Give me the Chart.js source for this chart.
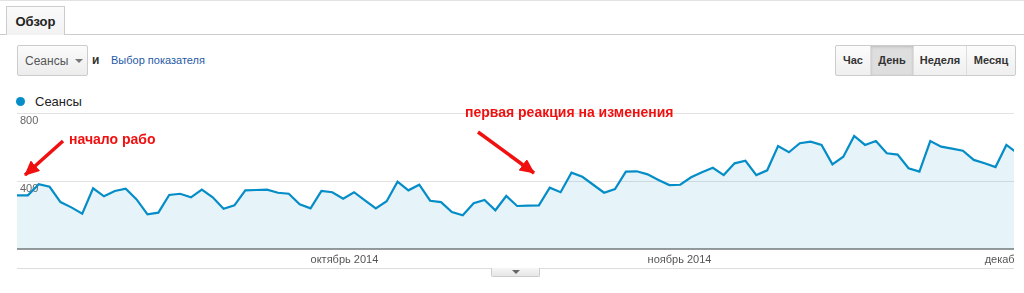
<!DOCTYPE html>
<html>
<head>
<meta charset="utf-8">
<script src="https://cdn.jsdelivr.net/npm/chart.js@4/dist/chart.umd.min.js"></script>
<style>
  body { margin: 0; width: 1024px; height: 293px; background: #fff; position: relative; overflow: hidden;
         font-family: "Liberation Sans", Arial, sans-serif; }
  .abs { position: absolute; }
  #topline { left: 0; top: 0; width: 1024px; height: 1px; background: #e2e2e2; }
  #tabline { left: 0; top: 34px; width: 1024px; height: 1px; background: #ccc; }
  #tab { left: 6px; top: 6px; width: 57px; height: 28px; border: 1px solid #ccc; border-bottom: none;
         background: linear-gradient(#fafafa, #f2f2f2); font-size: 13px; font-weight: bold; color: #222;
         text-align: center; line-height: 30px; }
  #metric { left: 17px; top: 45px; width: 69px; height: 29px; border: 1px solid #ccc; border-radius: 2px;
            background: linear-gradient(#fbfbfb, #ececec); font-size: 12px; color: #555; line-height: 30px; }
  #metric span { position: absolute; left: 7px; }
  #metric i { position: absolute; left: 57px; top: 13px; border-left: 4px solid transparent;
              border-right: 4px solid transparent; border-top: 4px solid #777; }
  #and { left: 92px; top: 53px; font-size: 12px; font-weight: bold; color: #333; }
  #pick { left: 111px; top: 54px; font-size: 11px; color: #1f5aa6; }
  #btns { left: 835px; top: 45px; height: 29px; border: 1px solid #ccc; border-radius: 2px; display: flex;
          background: linear-gradient(#fcfcfc, #efefef); }
  #btns div { font-size: 11px; font-weight: bold; color: #333; text-align: center; line-height: 29px;
              border-left: 1px solid #ddd; }
  #btns div:first-child { border-left: none; }
  #btns .on { background: #dedede; box-shadow: inset 0 1px 3px rgba(0,0,0,0.15); }
  #legdot { left: 16px; top: 97px; width: 9px; height: 9px; border-radius: 50%; background: #058dc7; }
  #legtxt { left: 35px; top: 94px; font-size: 13px; color: #222; }
  #chartbox { left: 17px; top: 113px; width: 997px; height: 156px; }
  #botline { left: 17px; top: 268px; width: 997px; height: 1px; background: #ddd; }
  #pull { left: 491px; top: 268px; width: 47px; height: 8px; border: 1px solid #ccc; border-top: none;
          background: linear-gradient(#f6f6f6, #e6e6e6); border-radius: 0 0 2px 2px; }
  #pull i { position: absolute; left: 20px; top: 2px; border-left: 4px solid transparent;
            border-right: 4px solid transparent; border-top: 4px solid #666; }
  .note { font-size: 14px; font-weight: bold; color: #f01010; z-index: 5; white-space: nowrap; }
  #arrows { left: 0; top: 0; z-index: 5; }
</style>
</head>
<body>
<div class="abs" id="topline"></div>
<div class="abs" id="tabline"></div>
<div class="abs" id="tab">Обзор</div>
<div class="abs" id="metric"><span>Сеансы</span><i></i></div>
<div class="abs" id="and">и</div>
<div class="abs" id="pick">Выбор показателя</div>
<div class="abs" id="btns">
  <div style="width:34px">Час</div>
  <div class="on" style="width:42px">День</div>
  <div style="width:52px">Неделя</div>
  <div style="width:48px">Месяц</div>
</div>
<div class="abs" id="legdot"></div>
<div class="abs" id="legtxt">Сеансы</div>
<div class="abs" id="chartbox"><canvas id="sessions"></canvas></div>
<div class="abs" id="botline"></div>
<div class="abs" id="pull"><i></i></div>

<div class="abs note" style="left:69px; top:131px;">начало рабо</div>
<div class="abs note" style="left:465px; top:104px;">первая реакция на изменения</div>
<svg class="abs" id="arrows" width="1024" height="293">
  <defs>
    <marker id="head" markerUnits="userSpaceOnUse" markerWidth="16" markerHeight="14" refX="14" refY="7" orient="auto">
      <path d="M0,0 L15,7 L0,14 z" fill="#f01010"/>
    </marker>
  </defs>
  <line x1="63" y1="141" x2="25" y2="175" stroke="#f01010" stroke-width="3.5" marker-end="url(#head)"/>
  <line x1="478" y1="132" x2="534" y2="173" stroke="#f01010" stroke-width="3.5" marker-end="url(#head)"/>
</svg>

<script>
// сеансы по дням, с 4 сентября 2014
const sessions = [
  316, 316, 381, 366, 276, 245, 208, 357, 310, 341,
  355, 292, 204, 214, 318, 325, 304, 349, 304, 237,
  257, 345, 347, 349, 331, 325, 263, 239, 341, 334,
  296, 334, 286, 239, 281, 396, 345, 378, 284, 276,
  218, 198, 269, 288, 228, 312, 253, 255, 257, 361,
  334, 449, 425, 378, 331, 353, 455, 457, 439, 406,
  376, 378, 422, 451, 478, 435, 504, 519, 435, 463,
  606, 569, 622, 631, 612, 498, 543, 665, 612, 635,
  563, 555, 475, 455, 635, 602, 590, 578, 524, 504,
  482, 612, 565
];
const dayIndex = sessions.map((v, i) => i);
const monthTicks = [27, 58, 89];
const monthLabels = ['октябрь 2014', 'ноябрь 2014', 'декабрь 2014'];
const yTicks = [0, 400, 800];

const ctx = document.getElementById('sessions').getContext('2d');
const myChart = new Chart(ctx, {
  type: 'line',
  data: {
    labels: dayIndex,
    datasets: [
      {
        label: 'Сеансы',
        data: sessions,
        borderColor: '#058dc7',
        backgroundColor: 'rgba(5, 141, 199, 0.1)',
        borderWidth: 2.2,
        fill: 'origin',
        tension: 0,
        pointRadius: 0,
      },
    ],
  },
  options: {
    responsive: true,
    maintainAspectRatio: false,
    animation: false,
    layout: { padding: 0 },
    plugins: {
      legend: { display: false },
      tooltip: { enabled: false },
    },
    scales: {
      x: {
        type: 'linear',
        min: 0,
        max: 91.7,
        grid: { display: false, drawTicks: false },
        border: { display: false },
        afterBuildTicks: function (s) {
          s.ticks = monthTicks.map(function (v) { return { value: v }; });
        },
        afterFit: function (s) {
          s.height = 20;
          s.paddingLeft = 0;
          s.paddingRight = 0;
        },
        ticks: {
          align: 'start',
          autoSkip: false,
          maxRotation: 0,
          padding: 4,
          color: '#555',
          font: { family: 'Liberation Sans', size: 11 },
          callback: function (value) {
            return monthLabels[monthTicks.indexOf(value)];
          },
        },
      },
      y: {
        min: 0,
        max: 800,
        afterBuildTicks: function (s) {
          s.ticks = yTicks.map(function (v) { return { value: v }; });
        },
        afterFit: function (s) {
          s.width = 0;
          s.paddingTop = 0;
          s.paddingBottom = 0;
        },
        grid: {
          drawTicks: false,
          color: function (c) { return c.tick.value === 0 ? '#9a9a9a' : '#e3e3e3'; },
          lineWidth: function (c) { return c.tick.value === 0 ? 2 : 1; },
        },
        border: { display: false },
        ticks: {
          mirror: true,
          padding: 3,
          labelOffset: 8,
          color: '#666',
          font: { family: 'Liberation Sans', size: 11 },
          callback: function (value) {
            return value === 0 ? '' : value;
          },
        },
      },
    },
  },
});
</script>
</body>
</html>
